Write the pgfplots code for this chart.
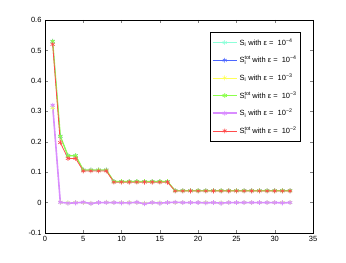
\documentclass[border=0pt]{standalone}
\usepackage{pgfplots}
\pgfplotsset{compat=1.18}
\usepackage{fontspec}
\setmainfont{Liberation Sans}
\definecolor{ccyan}{rgb}{0.55,1,0.85}
\definecolor{cblue}{rgb}{0.3,0.4,1}
\definecolor{cyel}{rgb}{1,1,0.35}
\definecolor{cgreen}{rgb}{0.55,1,0.3}
\definecolor{cviol}{rgb}{0.85,0.55,1}
\definecolor{cred}{rgb}{1,0.3,0.3}
\newcommand{\Si}{S\textsubscript{i}}
\newcommand{\St}{S\rlap{\textsuperscript{tot}}\textsubscript{i}\hspace{0.55em}}
\newcommand{\E}[1]{ with ε = \ 10\textsuperscript{−#1}}
\begin{document}
\begin{tikzpicture}
\pgfplotstableread{
x first tot totr
1 0.320 0.535 0.520
2 0.001 0.220 0.197
3 -0.002 0.155 0.145
4 -0.001 0.155 0.145
5 0.001 0.108 0.104
6 -0.003 0.108 0.104
7 0.000 0.108 0.104
8 0.000 0.108 0.104
9 0.000 0.070 0.067
10 -0.001 0.070 0.067
11 -0.001 0.070 0.067
12 0.001 0.070 0.067
13 -0.004 0.070 0.067
14 0.000 0.070 0.067
15 -0.002 0.070 0.067
16 0.000 0.070 0.067
17 0.001 0.040 0.038
18 0.000 0.040 0.038
19 0.000 0.040 0.038
20 0.000 0.040 0.038
21 -0.001 0.040 0.038
22 0.000 0.040 0.038
23 -0.002 0.040 0.038
24 0.000 0.040 0.038
25 0.000 0.040 0.038
26 0.000 0.040 0.038
27 0.000 0.040 0.038
28 0.000 0.040 0.038
29 0.000 0.040 0.038
30 0.000 0.040 0.038
31 -0.001 0.040 0.038
32 0.000 0.040 0.038
}\data
\pgfplotstableread{
x first tot
1 0.312 0.530
2 0.001 0.218
3 -0.001 0.154
4 0.000 0.154
5 0.000 0.107
6 -0.002 0.107
7 0.000 0.107
8 0.001 0.107
9 0.000 0.069
10 0.000 0.069
11 0.000 0.069
12 0.000 0.069
13 -0.002 0.069
14 0.000 0.069
15 -0.001 0.069
16 0.000 0.069
17 0.000 0.039
18 0.000 0.039
19 0.000 0.039
20 0.000 0.039
21 0.000 0.039
22 0.000 0.039
23 -0.001 0.039
24 0.000 0.039
25 0.000 0.039
26 0.000 0.039
27 0.000 0.039
28 0.000 0.039
29 0.000 0.039
30 0.000 0.039
31 0.000 0.039
32 0.000 0.039
}\datab
\begin{axis}[
  name=ax,
  scale only axis,
  width=268pt, height=213pt,
  xmin=0, xmax=35, ymin=-0.1, ymax=0.6,
  xtick={0,5,...,35}, ytick={-0.1,0,...,0.6},
  yticklabels={-0.1,0,0.1,0.2,0.3,0.4,0.5,0.6},
  tick align=inside, tick pos=both,
  major tick length=3pt,
  ticklabel style={font=\fontsize{7.5}{8}\selectfont},
  /pgf/number format/assume math mode=true,
  axis line style={line width=0.6pt},
  legend style={at={(rel axis cs:0.955,0.945)}, anchor=north east,
    font=\fontsize{7.5}{9}\selectfont, draw=black, line width=0.6pt,
    row sep=5.5pt, inner xsep=2pt, inner ysep=4.5pt},
  legend cell align=left,
  legend image code/.code={\draw[mark repeat=2,mark phase=2] plot coordinates {(0pt,0pt) (12pt,0pt) (24pt,0pt)};},
  every axis plot/.append style={mark=asterisk, mark size=2.4pt},
]
\addplot[ccyan, line width=0.5pt, mark options={solid}] table[x=x,y=first] {\datab};
\addlegendentry{\Si\E{4}}
\addplot[cblue, line width=0.5pt] table[x=x,y=tot] {\datab};
\addlegendentry{\St\E{4}}
\addplot[cyel, line width=0.5pt] table[x=x,y=first] {\datab};
\addlegendentry{\Si\E{3}}
\addplot[cgreen, line width=1.3pt, mark options={line width=0.8pt}] table[x=x,y=tot] {\datab};
\addlegendentry{\St\E{3}}
\addplot[cviol, line width=1.6pt, mark options={line width=0.8pt}] table[x=x,y=first] {\data};
\addlegendentry{\Si\E{2}}
\addplot[cred, line width=0.8pt, mark options={line width=0.6pt}] table[x=x,y=totr] {\data};
\addlegendentry{\St\E{2}}
\end{axis}
\pgfresetboundingbox
\path ([xshift=-45pt,yshift=-30pt]ax.south west) rectangle ([xshift=33pt,yshift=20pt]ax.north east);
\end{tikzpicture}
\end{document}
